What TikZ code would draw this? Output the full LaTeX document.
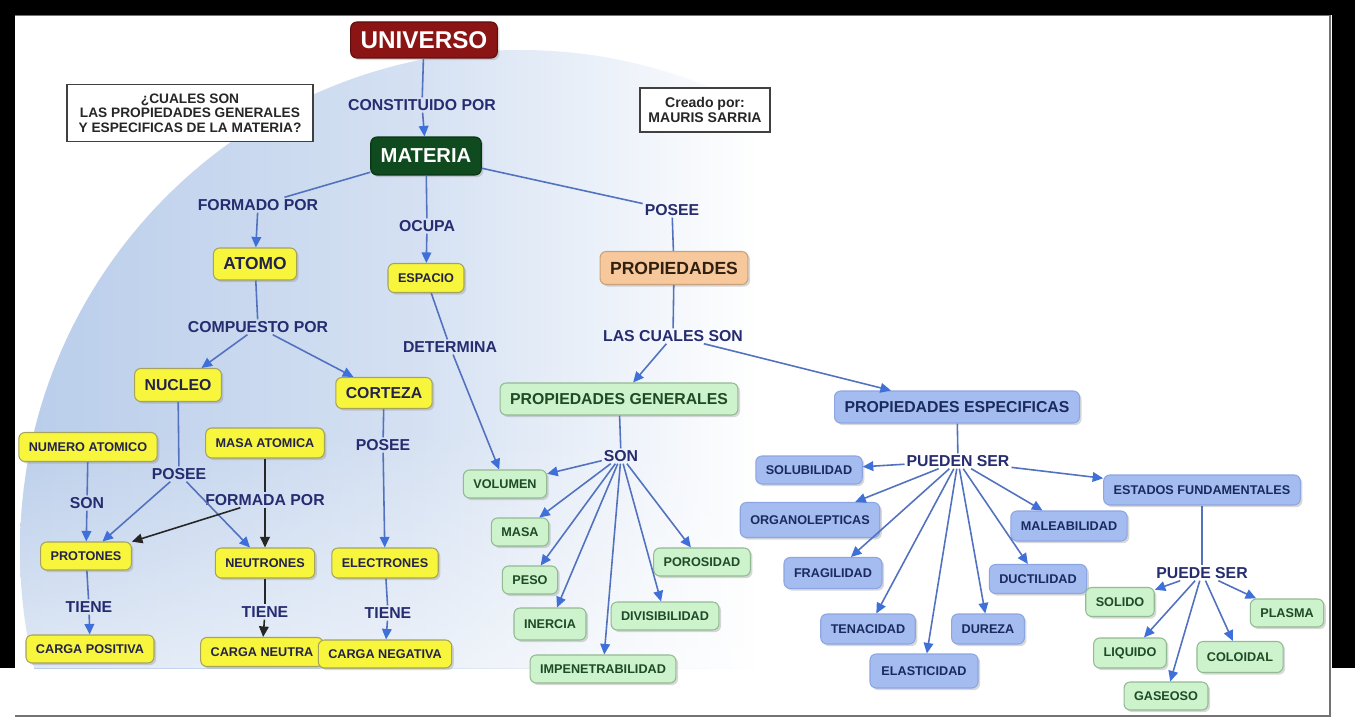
\documentclass[tikz,border=0pt]{standalone}
\usepackage{fontspec}
\setmainfont{Liberation Sans}
\usetikzlibrary{arrows.meta,shadows,fadings}
\definecolor{bgblue}{HTML}{B9CDEA}
\definecolor{linkcol}{HTML}{262C70}
\definecolor{linecol}{HTML}{5272C0}
\definecolor{tipcol}{HTML}{3F6FD8}
\definecolor{unicol}{HTML}{8B1414}
\definecolor{matcol}{HTML}{0F4B1E}
\definecolor{yelfill}{HTML}{F8F63C}
\definecolor{yeldraw}{HTML}{A5A35E}
\definecolor{yeltext}{HTML}{23234A}
\definecolor{grnfill}{HTML}{CDF3CD}
\definecolor{grndraw}{HTML}{93BA93}
\definecolor{grntext}{HTML}{1E4A25}
\definecolor{blufill}{HTML}{A4BCF0}
\definecolor{bludraw}{HTML}{8CA5E3}
\definecolor{blutext}{HTML}{1B2A5E}
\definecolor{orgfill}{HTML}{F6C89C}
\definecolor{orgdraw}{HTML}{C9A27C}
\newcommand{\lnkfont}{\fontsize{9}{10}\selectfont\bfseries}
\newcommand{\cptfont}{\fontsize{7.2}{8}\selectfont\bfseries}
\newcommand{\bigcfont}{\fontsize{9}{10}\selectfont\bfseries}
\pgfdeclarehorizontalshading{circfade}{100bp}{color(0bp)=(bgblue); color(25bp)=(bgblue);
  color(45bp)=(bgblue!60!white); color(62bp)=(white); color(100bp)=(white)}
\tikzfading[name=fadebot, top color=transparent!100, bottom color=transparent!45]

\begin{document}
\begin{tikzpicture}[x=0.02cm, y=-0.02cm,
  lnk/.style={text=linkcol, font=\lnkfont, inner sep=1pt},
  cpt/.style={rounded corners=3.5pt, inner xsep=0.2cm, inner ysep=0pt, line width=0.6pt,
              drop shadow={shadow xshift=1.2pt, shadow yshift=-1.2pt, opacity=0.3}},
  sm/.style={cpt, font=\cptfont, minimum height=0.56cm},
  bigc/.style={cpt, font=\bigcfont, minimum height=0.64cm},
  yel/.style={fill=yelfill, draw=yeldraw, text=yeltext},
  grn/.style={fill=grnfill, draw=grndraw, text=grntext},
  blu/.style={fill=blufill, draw=bludraw, text=blutext},
  conn/.style={draw=linecol, line width=0.9pt},
  arr/.style={conn, -{Triangle[length=6pt, width=5.5pt, color=tipcol]}},
  blk/.style={draw=black!85, line width=0.9pt},
  blkarr/.style={blk, -{Triangle[length=6pt, width=5.5pt]}},
  note/.style={draw=black!75, line width=1.1pt, fill=white, align=center, inner sep=0pt, text=black!85}]

  \useasboundingbox (0,0) rectangle (1355,719);
  % screen and background
  \fill[white] (0,0) rectangle (1355,719);
  \begin{scope}
    \clip (15,15) rectangle (1330,668);
    \shade[shading=circfade] (520,550) circle[radius=500];
    \fill[white, path fading=fadebot] (15,430) rectangle (1330,668);
  \end{scope}
  \fill[black] (0,0) rectangle (1355,15);
  \fill[black] (0,0) rectangle (15,668);
  \fill[black] (1332,0) rectangle (1355,668);
  \draw[black!55, line width=0.8pt] (15,15.5) -- (1330,15.5) -- (1330,716) -- (15,716);

  % boxes of text
  \node[note, font=\fontsize{7.8}{8.2}\selectfont\bfseries, minimum width=4.92cm, minimum height=1.14cm]
    (quest) at (190,113) {¿CUALES SON\\LAS PROPIEDADES GENERALES\\Y ESPECIFICAS DE LA MATERIA?};
  \node[note, font=\fontsize{8}{8.6}\selectfont\bfseries, minimum width=2.6cm, minimum height=0.88cm]
    (autor) at (705,110) {Creado por:\\MAURIS SARRIA};

  % top
  \node[cpt, fill=unicol, draw=unicol!70!black, text=white, font=\fontsize{13.8}{15}\selectfont\bfseries,
        minimum height=0.72cm] (uni) at (424,40) {UNIVERSO};
  \node[lnk] (constit) at (422,105) {CONSTITUIDO POR};
  \node[cpt, fill=matcol, draw=matcol!70!black, text=white, font=\fontsize{11.5}{13}\selectfont\bfseries,
        minimum height=0.76cm] (mat) at (426,156) {MATERIA};
  \node[lnk] (formado) at (258,205) {FORMADO POR};
  \node[lnk] (ocupa) at (427,226) {OCUPA};
  \node[lnk] (poseeM) at (672,210) {POSEE};

  % atomo
  \node[bigc, yel, font=\fontsize{9.9}{11}\selectfont\bfseries] (atomo) at (255,264) {ATOMO};
  \node[lnk] (compuesto) at (258,327) {COMPUESTO POR};
  \node[bigc, yel, minimum height=0.66cm] (nucleo) at (178,385) {NUCLEO};
  \node[bigc, yel, minimum height=0.62cm] (corteza) at (384,393) {CORTEZA};
  \node[sm, yel, minimum height=0.58cm] (numat) at (88,447) {NUMERO ATOMICO};
  \node[sm, yel, minimum height=0.6cm] (masat) at (265,443) {MASA ATOMICA};
  \node[lnk] (poseeN) at (179,474) {POSEE};
  \node[lnk] (sonN) at (87,503) {SON};
  \node[lnk] (formada) at (265,500) {FORMADA POR};
  \node[lnk] (poseeC) at (383,445) {POSEE};
  \node[sm, yel] (protones) at (86,556) {PROTONES};
  \node[sm, yel, minimum height=0.6cm] (neutrones) at (265,563) {NEUTRONES};
  \node[sm, yel, minimum height=0.6cm] (electrones) at (385,563) {ELECTRONES};
  \node[lnk] (tieneP) at (89,607) {TIENE};
  \node[lnk] (tieneN) at (265,612) {TIENE};
  \node[lnk] (tieneE) at (388,613) {TIENE};
  \node[sm, yel] (cpos) at (90,649) {CARGA POSITIVA};
  \node[sm, yel, minimum height=0.58cm] (cneu) at (262,652) {CARGA NEUTRA};
  \node[sm, yel] (cneg) at (385,654) {CARGA NEGATIVA};

  % espacio
  \node[sm, yel, minimum height=0.58cm] (espacio) at (426,278) {ESPACIO};
  \node[lnk] (determina) at (450,347) {DETERMINA};

  % propiedades
  \node[bigc, fill=orgfill, draw=orgdraw, text=black!75!brown, font=\fontsize{10}{11}\selectfont\bfseries,
        minimum height=0.66cm] (prop) at (674,268) {PROPIEDADES};
  \node[lnk] (lascuales) at (673,336) {LAS CUALES SON};
  \node[bigc, grn] (pgen) at (619,399) {PROPIEDADES GENERALES};
  \node[bigc, blu] (pesp) at (957,407) {PROPIEDADES ESPECIFICAS};

  % generales
  \node[lnk] (sonG) at (621,456) {SON};
  \node[sm, grn] (volumen) at (505,484) {VOLUMEN};
  \node[sm, grn] (masa) at (520,532) {MASA};
  \node[sm, grn] (peso) at (530,580) {PESO};
  \node[sm, grn, minimum height=0.64cm] (inercia) at (550,624) {INERCIA};
  \node[sm, grn] (impen) at (603,669) {IMPENETRABILIDAD};
  \node[sm, grn] (divis) at (665,616) {DIVISIBILIDAD};
  \node[sm, grn] (poros) at (702,562) {POROSIDAD};

  % especificas
  \node[lnk] (pueden) at (958,461) {PUEDEN SER};
  \node[sm, blu] (solub) at (809,470) {SOLUBILIDAD};
  \node[sm, blu, minimum height=0.7cm] (organo) at (810,520) {ORGANOLEPTICAS};
  \node[sm, blu, minimum height=0.62cm] (fragil) at (833,573) {FRAGILIDAD};
  \node[sm, blu, minimum height=0.6cm] (tenac) at (868,629) {TENACIDAD};
  \node[sm, blu, minimum height=0.68cm, minimum width=2.16cm] (elast) at (924,671) {ELASTICIDAD};
  \node[sm, blu, minimum height=0.6cm] (dureza) at (988,629) {DUREZA};
  \node[sm, blu, minimum height=0.58cm] (ductil) at (1038,579) {DUCTILIDAD};
  \node[sm, blu, minimum height=0.6cm] (maleab) at (1069,526) {MALEABILIDAD};
  \node[sm, blu, minimum height=0.6cm] (estados) at (1202,490) {ESTADOS FUNDAMENTALES};

  % estados
  \node[lnk] (puede) at (1202,573) {PUEDE SER};
  \node[sm, grn, minimum height=0.58cm] (solido) at (1120,602) {SOLIDO};
  \node[sm, grn] (plasma) at (1287,613) {PLASMA};
  \node[sm, grn, minimum height=0.6cm] (liquido) at (1130,653) {LIQUIDO};
  \node[sm, grn, minimum height=0.62cm] (coloidal) at (1240,657) {COLOIDAL};
  \node[sm, grn] (gaseoso) at (1166,696) {GASEOSO};

  % connectors
  \draw[conn] (uni) -- (constit);
  \draw[arr] (constit) -- (mat);
  \foreach \l in {formado,ocupa,poseeM} \draw[conn] (mat) -- (\l);
  \draw[arr] (formado) -- (atomo);
  \draw[arr] (ocupa) -- (espacio);
  \draw[conn] (poseeM) -- (prop);
  \draw[conn] (atomo) -- (compuesto);
  \foreach \n in {nucleo,corteza} \draw[arr] (compuesto) -- (\n);
  \draw[conn] (espacio) -- (determina);
  \draw[arr] (determina) -- (volumen);
  \draw[conn] (nucleo) -- (poseeN);
  \foreach \n in {protones,neutrones} \draw[arr] (poseeN) -- (\n);
  \draw[conn] (numat) -- (sonN);
  \draw[arr] (sonN) -- (protones);
  \draw[blk] (masat) -- (formada);
  \foreach \n in {protones,neutrones} \draw[blkarr] (formada) -- (\n);
  \draw[conn] (corteza) -- (poseeC);
  \draw[arr] (poseeC) -- (electrones);
  \draw[conn] (protones) -- (tieneP);
  \draw[arr] (tieneP) -- (cpos);
  \draw[blk] (neutrones) -- (tieneN);
  \draw[blkarr] (tieneN) -- (cneu);
  \draw[conn] (electrones) -- (tieneE);
  \draw[arr] (tieneE) -- (cneg);
  \draw[conn] (prop) -- (lascuales);
  \foreach \n in {pgen,pesp} \draw[arr] (lascuales) -- (\n);
  \draw[conn] (pgen) -- (sonG);
  \foreach \n in {volumen,masa,peso,inercia,impen,divis,poros} \draw[arr] (sonG) -- (\n);
  \draw[conn] (pesp) -- (pueden);
  \foreach \n in {solub,organo,fragil,tenac,elast,dureza,ductil,maleab,estados} \draw[arr] (pueden) -- (\n);
  \draw[conn] (estados) -- (puede);
  \foreach \n in {solido,liquido,gaseoso,coloidal,plasma} \draw[arr] (puede) -- (\n);
\end{tikzpicture}
\end{document}
